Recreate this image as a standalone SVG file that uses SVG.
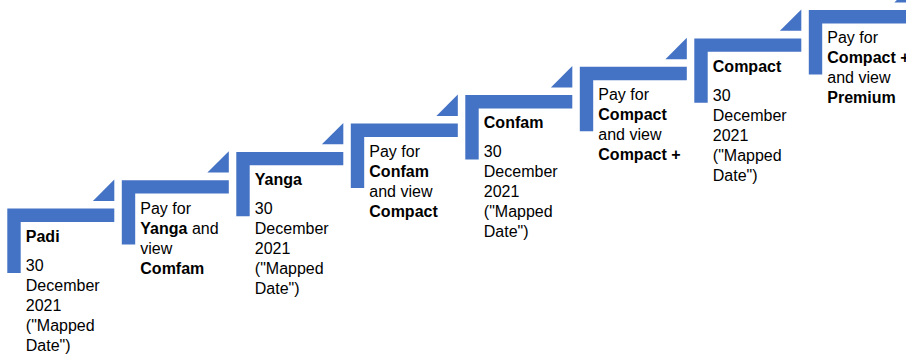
<svg xmlns="http://www.w3.org/2000/svg" xmlns:xlink="http://www.w3.org/1999/xlink" width="906" height="354" viewBox="0 0 906 354">
<style>
.shape{fill:#4472C4;}
.t{font-family:"Liberation Sans",Arial,sans-serif;font-size:16px;fill:#000;}
.b{font-weight:bold;}
</style>
<defs>
<path id="corner" d="M0,0 h107 v13.4 h-93.6 v51 h-13.4 z"/>
<polygon id="tri" points="107,-29 107,-7.6 85.6,-7.6"/>
</defs>
<rect width="906" height="354" fill="#fff"/>
<g id="connectors"></g>
<g id="step1" transform="translate(7.3,208.6)">
<use href="#corner" class="shape"/><use href="#tri" class="shape"/>
<text class="t" x="18.5" y="33.4"><tspan class="b">Padi</tspan></text>
<text class="t" x="18.5" y="62.2">30</text>
<text class="t" x="18.5" y="82.2">December</text>
<text class="t" x="18.5" y="102.2">2021</text>
<text class="t" x="18.5" y="122.2">("Mapped</text>
<text class="t" x="18.5" y="142.2">Date")</text>
</g>
<g id="step2" transform="translate(121.8,180.2)">
<use href="#corner" class="shape"/><use href="#tri" class="shape"/>
<text class="t" x="18.5" y="33.4">Pay for</text>
<text class="t" x="18.5" y="53.4"><tspan class="b">Yanga</tspan> and</text>
<text class="t" x="18.5" y="73.4">view</text>
<text class="t b" x="18.5" y="93.4">Comfam</text>
</g>
<g id="step3" transform="translate(236.3,151.9)">
<use href="#corner" class="shape"/><use href="#tri" class="shape"/>
<text class="t b" x="18.5" y="33.4">Yanga</text>
<text class="t" x="18.5" y="62.2">30</text>
<text class="t" x="18.5" y="82.2">December</text>
<text class="t" x="18.5" y="102.2">2021</text>
<text class="t" x="18.5" y="122.2">("Mapped</text>
<text class="t" x="18.5" y="142.2">Date")</text>
</g>
<g id="step4" transform="translate(350.8,123.5)">
<use href="#corner" class="shape"/><use href="#tri" class="shape"/>
<text class="t" x="18.5" y="33.4">Pay for</text>
<text class="t b" x="18.5" y="53.4">Confam</text>
<text class="t" x="18.5" y="73.4">and view</text>
<text class="t b" x="18.5" y="93.4">Compact</text>
</g>
<g id="step5" transform="translate(465.3,95.1)">
<use href="#corner" class="shape"/><use href="#tri" class="shape"/>
<text class="t b" x="18.5" y="33.4">Confam</text>
<text class="t" x="18.5" y="62.2">30</text>
<text class="t" x="18.5" y="82.2">December</text>
<text class="t" x="18.5" y="102.2">2021</text>
<text class="t" x="18.5" y="122.2">("Mapped</text>
<text class="t" x="18.5" y="142.2">Date")</text>
</g>
<g id="step6" transform="translate(579.8,66.8)">
<use href="#corner" class="shape"/><use href="#tri" class="shape"/>
<text class="t" x="18.5" y="33.4">Pay for</text>
<text class="t b" x="18.5" y="53.4">Compact</text>
<text class="t" x="18.5" y="73.4">and view</text>
<text class="t b" x="18.5" y="93.4">Compact +</text>
</g>
<g id="step7" transform="translate(694.3,38.4)">
<use href="#corner" class="shape"/><use href="#tri" class="shape"/>
<text class="t b" x="18.5" y="33.4">Compact</text>
<text class="t" x="18.5" y="62.2">30</text>
<text class="t" x="18.5" y="82.2">December</text>
<text class="t" x="18.5" y="102.2">2021</text>
<text class="t" x="18.5" y="122.2">("Mapped</text>
<text class="t" x="18.5" y="142.2">Date")</text>
</g>
<g id="step8" transform="translate(808.8,10)">
<use href="#corner" class="shape"/><use href="#tri" class="shape"/>
<text class="t" x="18.5" y="33.4">Pay for</text>
<text class="t b" x="18.5" y="53.4">Compact +</text>
<text class="t" x="18.5" y="73.4">and view</text>
<text class="t b" x="18.5" y="93.4">Premium</text>
</g>
</svg>
